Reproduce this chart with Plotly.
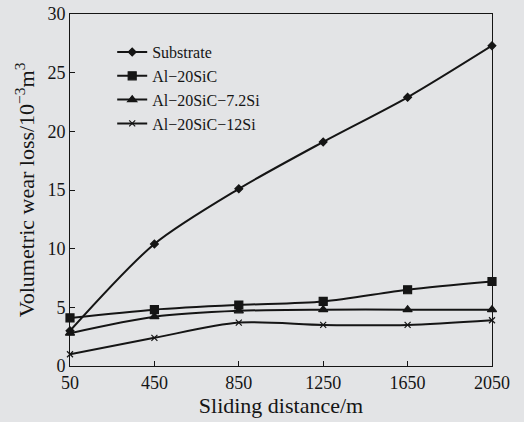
import plotly.graph_objects as go

distance = [50, 450, 850, 1250, 1650, 2050]
substrate = [3.0, 10.4, 15.1, 19.1, 22.9, 27.3]
al_sic = [4.1, 4.8, 5.2, 5.5, 6.5, 7.2]
al_sic_72si = [2.8, 4.2, 4.7, 4.8, 4.8, 4.8]
al_sic_12si = [1.0, 2.4, 3.7, 3.5, 3.5, 3.9]

names = ["Substrate", "Al\u221220SiC", "Al\u221220SiC\u22127.2Si", "Al\u221220SiC\u221212Si"]
series = [substrate, al_sic, al_sic_72si, al_sic_12si]
symbols = ["diamond", "square", "triangle-up", "x-thin"]
sizes = [6, 8, 8, 6]

bg = "#e3e4e6"
ink = "#151515"
font = "Liberation Serif"

fig = go.Figure()

for name, ys, sym, sz in zip(names, series, symbols, sizes):
    fig.add_scatter(
        x=distance,
        y=ys,
        mode="lines+markers",
        name=name,
        line={"color": ink, "width": 2, "shape": "spline", "smoothing": 0.8},
        marker={"symbol": sym, "size": sz, "color": ink, "line": {"color": ink, "width": 1.2}},
        cliponaxis=False,
    )

fig.update_layout(
    width=524,
    height=422,
    margin={"l": 70, "r": 32, "t": 14, "b": 56, "autoexpand": False},
    paper_bgcolor=bg,
    plot_bgcolor=bg,
    font={"family": font, "size": 18, "color": ink},
    showlegend=True,
    legend={
        "x": 0.1,
        "y": 0.94,
        "xanchor": "left",
        "yanchor": "top",
        "bgcolor": "rgba(0,0,0,0)",
        "font": {"size": 16},
        "itemwidth": 30,
        "tracegroupgap": 0,
    },
)

axis_style = dict(
    ticks="inside",
    ticklen=5,
    tickcolor=ink,
    showgrid=False,
    zeroline=False,
    showline=True,
    linecolor=ink,
    linewidth=1,
    mirror=True,
    automargin=False,
)

fig.update_xaxes(
    range=[50, 2050],
    tickvals=distance,
    title={"text": "Sliding distance/m", "standoff": 0},
    **axis_style,
)
fig.update_yaxes(
    range=[0, 30],
    tickvals=[0, 5, 10, 15, 20, 25, 30],
    title={"text": "Volumetric wear loss/10<sup>\u22123</sup>m<sup>3</sup>", "standoff": 6},
    **axis_style,
)

# drop the browser's default body margin so the figure sits at the page corner
fig.write_html(
    "out.html",
    config={"displayModeBar": False},
    post_script="document.body.style.margin='0';",
)
